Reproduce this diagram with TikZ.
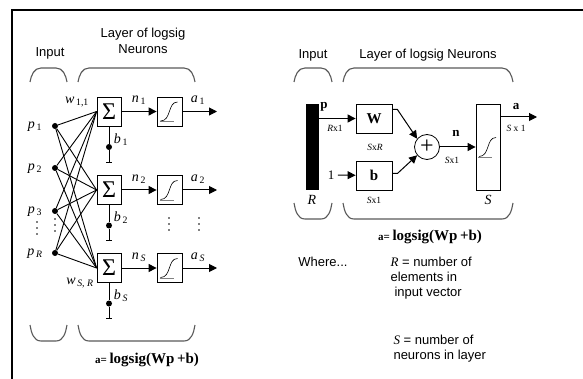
\documentclass[tikz,border=0pt]{standalone}
\usepackage{fontspec}
\setmainfont{Liberation Serif}
\setsansfont{Liberation Sans}
\usepackage{tikz}
\usetikzlibrary{arrows.meta, positioning, calc}
\usepackage{amsmath}

\begin{document}
\begin{tikzpicture}[x=1pt, y=-1pt,
    font=\sffamily\fontsize{13}{15.5}\selectfont,
    box/.style={draw, line width=0.8pt, fill=white, inner sep=0pt},
    sumbox/.style={box, minimum width=24pt, minimum height=29pt, font=\rmfamily\fontsize{24}{24}\selectfont},
    sigbox/.style={box, minimum width=25pt, minimum height=29pt, path picture={
        \draw[gray, line width=0.8pt] ([shift={(-10pt,-10pt)}]path picture bounding box.center) -- ++(14pt,0pt);
        \draw[line width=0.6pt] ([shift={(-9pt,-9.5pt)}]path picture bounding box.center)
          .. controls ([shift={(2pt,-9.5pt)}]path picture bounding box.center) and ([shift={(-2pt,9.5pt)}]path picture bounding box.center)
          .. ([shift={(8pt,9.5pt)}]path picture bounding box.center);}},
    dot/.style={circle, fill, inner sep=0pt, minimum size=6pt},
    wire/.style={line width=0.9pt},
    arr/.style={line width=1pt, -{Triangle[length=8pt, width=8pt]}},
    brace/.style={line width=1.1pt, gray!70!black},
    lbl/.style={font=\rmfamily\itshape\fontsize{14}{15}\selectfont, inner sep=1pt},
    dim/.style={font=\rmfamily\fontsize{9.5}{10}\selectfont},
    bold/.style={font=\rmfamily\bfseries\fontsize{13}{15}\selectfont},
    eq/.style={font=\rmfamily\bfseries}]
\useasboundingbox (0,0) rectangle (583,379);
% frame
\draw[line width=2pt] (12,379) -- (12,10) -- (583,10);

% braces over and under both diagrams
\foreach \xa/\xb in {30/67, 78/195, 294/332, 343/513}
  \draw[brace] (\xa,82) to[out=80,in=180] (\xa+11,68) -- (\xb-11,68) to[out=0,in=100] (\xb,82);
\foreach \xa/\xb/\yt in {30/67/325, 78/195/325, 294/332/203, 343/513/203}
  \draw[brace] (\xa,\yt) to[out=-80,in=180] (\xa+11,\yt+16) -- (\xb-11,\yt+16) to[out=0,in=-100] (\xb,\yt);

% left: one row per neuron
\node (inputL) at (50,53) {Input};
\node[align=center] (layerL) at (143,41) {Layer of logsig\\Neurons};
\foreach \r/\y/\k in {1/111.5/\upshape 1, 2/190/\upshape 2, 3/268/S} {
  \node[sumbox] (s\r) at (109,\y) {Σ};
  \node[sigbox] (f\r) at (169.5,\y) {};
  \coordinate (o\r) at (217,\y);
  \node[dot] (bd\r) at (109,\y+35.5) {};
  \coordinate (be\r) at (109,\y+50.5);
  \draw[arr] (s\r) -- (f\r);
  \draw[arr] (f\r) -- (o\r);
  \draw[wire] (s\r) -- (bd\r) -- (be\r);
  \draw[wire] ([xshift=-3pt]be\r) -- ([xshift=3pt]be\r);
  \node[lbl] (n\r) at (139,\y-11) {n\textsubscript{\,\k}};
  \node[lbl] (a\r) at (198,\y-11) {a\textsubscript{\,\k}};
  \node[lbl] (b\r) at (121,\y+28) {b\textsubscript{\,\k}};
}
\foreach \i/\y/\k in {1/126/\upshape 1, 2/168/\upshape 2, 3/211/\upshape 3, 4/253/R} {
  \node[dot] (i\i) at (55,\y) {};
  \node[lbl] (p\i) at (35,\y+1) {p\textsubscript{\,\k}};
  \foreach \r in {1,2,3}
    \draw[wire] (i\i) -- (s\r.west);
}
\node[lbl] (w11) at (77,102) {w\textsubscript{\,\upshape 1,1}};
\node[lbl] (wSR) at (80,283) {w\textsubscript{\,S, R}};
% dots for the rows left out
\foreach \x/\y in {37/222, 55/219, 169/218, 199/218}
  \foreach \d in {0,6,12}
    \fill (\x,\y+\d) circle (0.9pt);
\node[eq] (eqL) at (147,360) {{\fontsize{11}{13}\selectfont a= }{\fontsize{15}{17}\selectfont logsig(Wp\,+b)}};

% right: the same layer in matrix form
\node (inputR) at (313,55) {Input};
\node (layerR) at (428,55) {Layer of logsig Neurons};
\node[fill=black, minimum width=13pt, minimum height=86pt, inner sep=0pt] (bar) at (312.5,147) {};
\node[box, minimum width=36pt, minimum height=29pt, font=\rmfamily\bfseries\fontsize{15}{15}\selectfont] (W) at (374,118.5) {W};
\node[box, minimum width=36pt, minimum height=29pt, font=\rmfamily\bfseries\fontsize{15}{15}\selectfont] (b) at (374,175.5) {b};
\node[box, circle, minimum size=25pt, font=\rmfamily\fontsize{24}{24}\selectfont] (add) at (427,147) {+};
\node[sigbox, minimum width=24pt, minimum height=86pt] (S) at (488,147) {};
\node[font=\rmfamily\fontsize{13}{15}\selectfont] (one) at (331,175) {1};
\coordinate (aout) at (537,117);
\draw[arr] (bar.east |- W.west) -- (W.west);
\draw[arr] (one) -- (b);
\draw[arr] ([yshift=9pt]W.east) -- ++(5,0) -- (add.140);
\draw[arr] ([yshift=2pt]b.east) -- ++(5,0) -- (add.220);
\draw[arr] (add) -- (S);
\draw[arr] ([yshift=30pt]S.east) -- (aout);
\node[bold] (pl) at (324,107) {p};
\node[dim] (pdim) at (335,128) {\textit{R}x1};
\node[dim] (Wdim) at (375,147) {\textit{S}x\textit{R}};
\node[dim] (bdim) at (374,200) {\textit{S}x1};
\node[bold] (nl) at (456,133) {n};
\node[dim] (ndim) at (452,160) {\textit{S}x1};
\node[bold] (al) at (516,107) {a};
\node[dim] (adim) at (516,128) {\textit{S} x 1};
\node[font=\rmfamily\itshape\fontsize{14}{15}\selectfont] (Rl) at (312,200) {R};
\node[font=\rmfamily\itshape\fontsize{14}{15}\selectfont] (Sl) at (488,200) {S};
\node[eq] (eqR) at (430,237) {{\fontsize{11}{13}\selectfont a= }{\fontsize{15}{17}\selectfont logsig(Wp\,+b)}};
\node (where) at (323,262) {Where...};
\node[anchor=west] (Rdef1) at (387,262) {\textrm{\textit{R}} = number of};
\node[anchor=west] (Rdef2) at (387,277) {elements in};
\node[anchor=west] (Rdef3) at (391,293) {input vector};
\node[anchor=west] (Sdef1) at (390,340) {\textrm{\textit{S}} = number of};
\node[anchor=west] (Sdef2) at (390,356) {neurons in layer};
\end{tikzpicture}
\end{document}
